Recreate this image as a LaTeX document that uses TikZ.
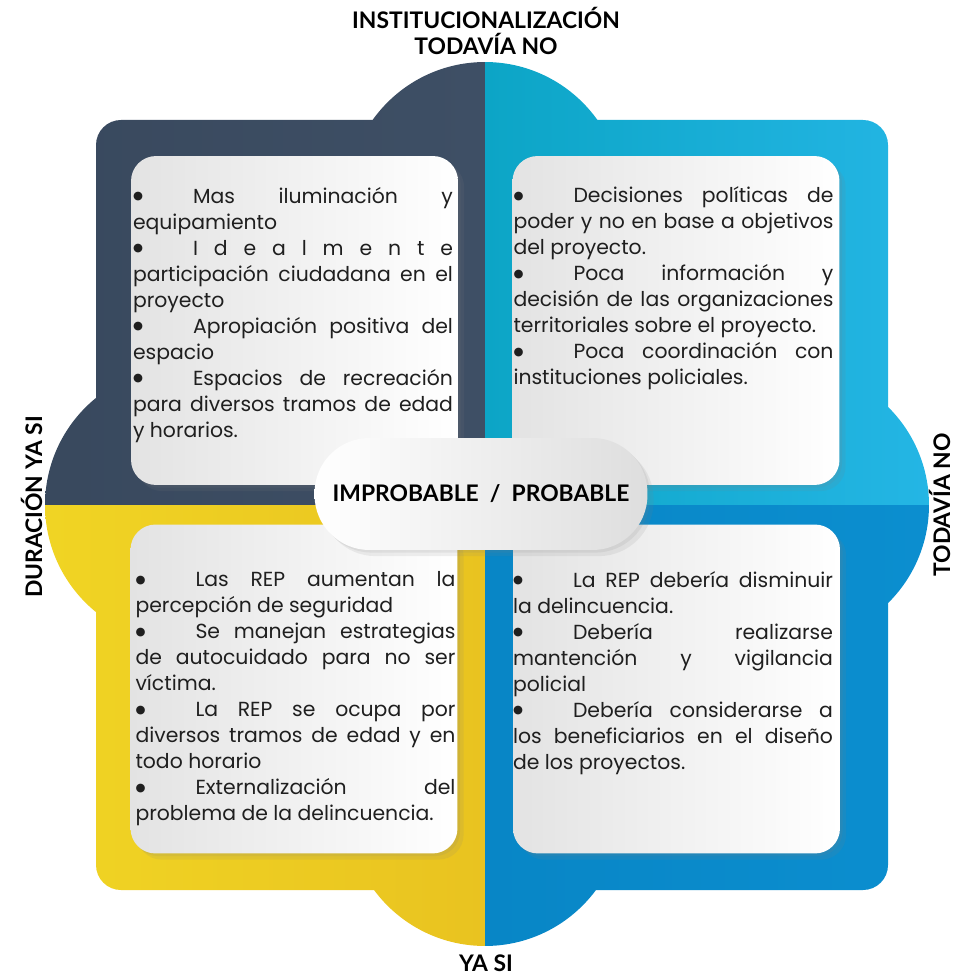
\documentclass[tikz,border=0pt]{standalone}
\usepackage{fontspec}
\setmainfont{Poppins}
\newfontfamily\labelfont{Lato}
\newfontfamily\symfont{DejaVu Sans}
\usetikzlibrary{shadows}
\setlength{\parindent}{0pt}

\definecolor{slateA}{RGB}{56,72,93}
\definecolor{slateB}{RGB}{62,79,101}
\definecolor{cyanA}{RGB}{12,165,198}
\definecolor{cyanB}{RGB}{38,183,231}
\definecolor{yellowA}{RGB}{241,214,36}
\definecolor{yellowB}{RGB}{233,195,32}
\definecolor{blueA}{RGB}{8,134,198}
\definecolor{blueB}{RGB}{12,143,208}

% bullet followed by a tab stop
\newcommand{\bul}{\makebox[1.2cm][l]{\raisebox{2pt}{\symfont\fontsize{6.5}{6.5}\selectfont ●}}}

\tikzset{
    card/.style={rounded corners=0.5cm, minimum width=6.54cm, minimum height=6.58cm,
        left color=black!11, right color=white,
        drop shadow={opacity=0.12, shadow xshift=3.5pt, shadow yshift=-3.5pt},
        drop shadow={opacity=0.12, shadow xshift=1.5pt, shadow yshift=-1.5pt}},
    cardtext/.style={anchor=north west, inner sep=0pt, text width=6.4cm, align=justify,
        text=black!88, font=\fontsize{11.6}{14.8}\selectfont},
    axislabel/.style={anchor=base, inner sep=0pt, font=\labelfont\bfseries\fontsize{13}{15}\selectfont},
    pill/.style={rounded corners=1.1cm, minimum width=6.66cm, minimum height=2.24cm,
        left color=white, right color=black!13,
        drop shadow={opacity=0.12, shadow xshift=3.5pt, shadow yshift=-3.5pt},
        drop shadow={opacity=0.12, shadow xshift=1.5pt, shadow yshift=-1.5pt},
        font=\labelfont\bfseries\fontsize{13}{15}\selectfont}
}

\begin{document}
\begin{tikzpicture}[x=0.02cm, y=-0.02cm]
    \useasboundingbox (0,0) rectangle (964,976);

    % Frame: rounded square with four round bulges, one colour per quadrant
    \begin{scope}
        \clip[rounded corners=0.5cm] (96,120) -- (96,890) -- (888,890) -- (888,120) -- cycle
            (485,200) circle (2.76cm) (485,808) circle (2.76cm)
            (183,505) circle (2.76cm) (791,505) circle (2.76cm);
        \shade[left color=slateA, right color=slateB] (0,0) rectangle (485,505);
        \shade[left color=cyanA, right color=cyanB] (485,0) rectangle (964,505);
        \shade[left color=yellowA, right color=yellowB] (0,505) rectangle (485,976);
        \shade[left color=blueA, right color=blueB] (485,505) rectangle (964,976);
    \end{scope}

    % Cards
    \node[card] (tlcard) at (294.5,320.5) {};
    \node[card] (trcard) at (676,320.5) {};
    \node[card] (blcard) at (294,689) {};
    \node[card] (brcard) at (676.5,689) {};

    \node[cardtext] (tltext) at ([shift={(2,31)}]tlcard.north west) {%
        \bul Mas iluminación y\linebreak equipamiento\par
        \bul I\hfill d\hfill e\hfill a\hfill l\hfill m\hfill e\hfill n\hfill t\hfill e\linebreak
        participación ciudadana en el\linebreak proyecto\par
        \bul Apropiación positiva del\linebreak espacio\par
        \bul Espacios de recreación\linebreak para diversos tramos de edad\linebreak y horarios.};

    \node[cardtext] (trtext) at ([shift={(1,31)}]trcard.north west) {%
        \bul Decisiones políticas de\linebreak poder y no en base a objetivos\linebreak del proyecto.\par
        \bul Poca información y\linebreak decisión de las organizaciones\linebreak territoriales sobre el proyecto.\par
        \bul Poca coordinación con\linebreak instituciones policiales.};

    \node[cardtext] (bltext) at ([shift={(5,47)}]blcard.north west) {%
        \bul Las REP aumentan la\linebreak percepción de seguridad\par
        \bul Se manejan estrategias\linebreak de autocuidado para no ser\linebreak víctima.\par
        \bul La REP se ocupa por\linebreak diversos tramos de edad y en\linebreak todo horario\par
        \bul Externalización del\linebreak problema de la delincuencia.};

    \node[cardtext] (brtext) at ([shift={(0,47)}]brcard.north west) {%
        \bul La REP debería disminuir\linebreak la delincuencia.\par
        \bul Debería realizarse\linebreak mantención y vigilancia\linebreak policial\par
        \bul Debería considerarse a\linebreak los beneficiarios en el diseño\linebreak de los proyectos.};

    % Centre pill
    \node[pill] (centre) at (481,494) {IMPROBABLE~~/~~PROBABLE};

    % Axis labels
    \node[axislabel] (toplabel) at (486,29) {INSTITUCIONALIZACIÓN};
    \node[axislabel] (topsub) at (486,55) {TODAVÍA NO};
    \node[axislabel, rotate=90] (leftlabel) at (42,507) {DURACIÓN YA SI};
    \node[axislabel, rotate=90] (rightlabel) at (950,505) {TODAVÍA NO};
    \node[axislabel] (bottomlabel) at (486,971) {YA SI};
\end{tikzpicture}
\end{document}
